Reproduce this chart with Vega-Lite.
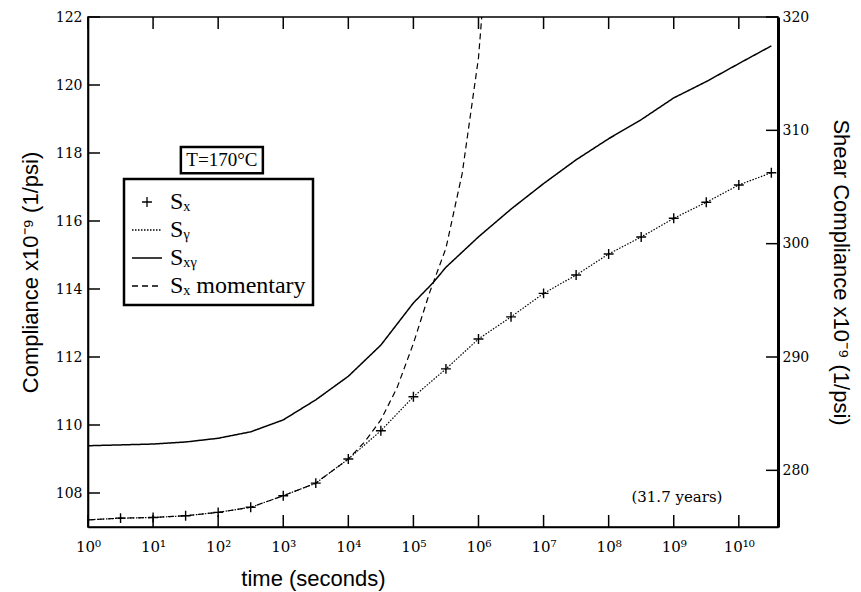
{
  "$schema": "https://vega.github.io/schema/vega-lite/v6.json",
  "width": 690,
  "height": 510,
  "autosize": {"type": "none"},
  "padding": {"left": 88, "top": 17, "right": 83, "bottom": 65},
  "background": "white",
  "config": {
    "view": {"stroke": "black", "strokeWidth": 1.6},
    "axis": {
      "grid": false,
      "domainColor": "black",
      "domainWidth": 1.6,
      "tickSize": 0,
      "labelFont": "DejaVu Serif",
      "labelFontSize": 14,
      "labelColor": "black",
      "labelFlush": false,
      "titleFont": "Liberation Sans",
      "titleFontSize": 22,
      "titleFontWeight": "normal",
      "titleColor": "black"
    },
    "legend": {
      "orient": "none",
      "legendX": 36,
      "legendY": 162,
      "padding": 7,
      "strokeColor": "black",
      "strokeWidth": 2.5,
      "fillColor": "white",
      "labelFont": "Liberation Serif",
      "labelFontSize": 24,
      "labelColor": "black",
      "symbolSize": 900,
      "symbolStrokeWidth": 1.3,
      "symbolStrokeColor": "black",
      "symbolFillColor": "transparent",
      "rowPadding": 0,
      "labelOffset": 7
    }
  },
  "datasets": {
    "curves": [
      {"series": "Sy", "t": 1, "v": 107.21},
      {"series": "Sy", "t": 3.1623, "v": 107.26},
      {"series": "Sy", "t": 10, "v": 107.28},
      {"series": "Sy", "t": 31.623, "v": 107.33},
      {"series": "Sy", "t": 100, "v": 107.43},
      {"series": "Sy", "t": 316.23, "v": 107.58},
      {"series": "Sy", "t": 1000, "v": 107.92},
      {"series": "Sy", "t": 3162.3, "v": 108.29},
      {"series": "Sy", "t": 10000, "v": 109.0},
      {"series": "Sy", "t": 31623, "v": 109.83},
      {"series": "Sy", "t": 100000, "v": 110.83},
      {"series": "Sy", "t": 316228, "v": 111.65},
      {"series": "Sy", "t": 1000000, "v": 112.53},
      {"series": "Sy", "t": 3162278, "v": 113.18},
      {"series": "Sy", "t": 10000000, "v": 113.87},
      {"series": "Sy", "t": 31622777, "v": 114.41},
      {"series": "Sy", "t": 100000000, "v": 115.03},
      {"series": "Sy", "t": 316227766, "v": 115.53},
      {"series": "Sy", "t": 1000000000, "v": 116.08},
      {"series": "Sy", "t": 3162277660, "v": 116.55},
      {"series": "Sy", "t": 10000000000, "v": 117.06},
      {"series": "Sy", "t": 31622776602, "v": 117.42},
      {"series": "Sx", "t": 3.1623, "v": 107.26},
      {"series": "Sx", "t": 10, "v": 107.28},
      {"series": "Sx", "t": 31.623, "v": 107.33},
      {"series": "Sx", "t": 100, "v": 107.43},
      {"series": "Sx", "t": 316.23, "v": 107.58},
      {"series": "Sx", "t": 1000, "v": 107.92},
      {"series": "Sx", "t": 3162.3, "v": 108.29},
      {"series": "Sx", "t": 10000, "v": 109.0},
      {"series": "Sx", "t": 31623, "v": 109.83},
      {"series": "Sx", "t": 100000, "v": 110.83},
      {"series": "Sx", "t": 316228, "v": 111.65},
      {"series": "Sx", "t": 1000000, "v": 112.53},
      {"series": "Sx", "t": 3162278, "v": 113.18},
      {"series": "Sx", "t": 10000000, "v": 113.87},
      {"series": "Sx", "t": 31622777, "v": 114.41},
      {"series": "Sx", "t": 100000000, "v": 115.03},
      {"series": "Sx", "t": 316227766, "v": 115.53},
      {"series": "Sx", "t": 1000000000, "v": 116.08},
      {"series": "Sx", "t": 3162277660, "v": 116.55},
      {"series": "Sx", "t": 10000000000, "v": 117.06},
      {"series": "Sx", "t": 31622776602, "v": 117.42},
      {"series": "Sx momentary", "t": 1, "v": 107.21},
      {"series": "Sx momentary", "t": 3.1623, "v": 107.26},
      {"series": "Sx momentary", "t": 10, "v": 107.28},
      {"series": "Sx momentary", "t": 31.623, "v": 107.33},
      {"series": "Sx momentary", "t": 100, "v": 107.43},
      {"series": "Sx momentary", "t": 316.23, "v": 107.58},
      {"series": "Sx momentary", "t": 1000, "v": 107.92},
      {"series": "Sx momentary", "t": 3162.3, "v": 108.29},
      {"series": "Sx momentary", "t": 10000, "v": 109.0},
      {"series": "Sx momentary", "t": 17783, "v": 109.5},
      {"series": "Sx momentary", "t": 31623, "v": 110.15},
      {"series": "Sx momentary", "t": 56234, "v": 111.1},
      {"series": "Sx momentary", "t": 100000, "v": 112.4},
      {"series": "Sx momentary", "t": 177828, "v": 113.9},
      {"series": "Sx momentary", "t": 316228, "v": 115.2},
      {"series": "Sx momentary", "t": 562341, "v": 117.4},
      {"series": "Sx momentary", "t": 1000000, "v": 120.8},
      {"series": "Sx momentary", "t": 1122018, "v": 122.0},
      {"series": "Sxy", "t": 1, "v": 282.17},
      {"series": "Sxy", "t": 10, "v": 282.32},
      {"series": "Sxy", "t": 31.623, "v": 282.5},
      {"series": "Sxy", "t": 100, "v": 282.83},
      {"series": "Sxy", "t": 316.23, "v": 283.4},
      {"series": "Sxy", "t": 1000, "v": 284.45},
      {"series": "Sxy", "t": 3162.3, "v": 286.22},
      {"series": "Sxy", "t": 10000, "v": 288.3},
      {"series": "Sxy", "t": 31623, "v": 291.05},
      {"series": "Sxy", "t": 100000, "v": 294.77},
      {"series": "Sxy", "t": 199526, "v": 296.54},
      {"series": "Sxy", "t": 316228, "v": 297.92},
      {"series": "Sxy", "t": 1000000, "v": 300.6},
      {"series": "Sxy", "t": 3162278, "v": 303.05},
      {"series": "Sxy", "t": 10000000, "v": 305.3},
      {"series": "Sxy", "t": 31622777, "v": 307.4},
      {"series": "Sxy", "t": 100000000, "v": 309.26},
      {"series": "Sxy", "t": 316227766, "v": 310.94},
      {"series": "Sxy", "t": 1000000000, "v": 312.86},
      {"series": "Sxy", "t": 3162277660, "v": 314.3},
      {"series": "Sxy", "t": 10000000000, "v": 315.89},
      {"series": "Sxy", "t": 31622776602, "v": 317.45}
    ],
    "notes": [
      {"label": "T=170°C", "t": 114, "v": 117.79},
      {"label": "(31.7 years)", "t": 1120000000, "v": 107.88}
    ],
    "xticks": [
      {"t": 1}, {"t": 10}, {"t": 100}, {"t": 1000}, {"t": 10000}, {"t": 100000},
      {"t": 1000000}, {"t": 10000000}, {"t": 100000000}, {"t": 1000000000}, {"t": 10000000000}
    ],
    "lticks": [
      {"v": 108}, {"v": 110}, {"v": 112}, {"v": 114}, {"v": 116}, {"v": 118}, {"v": 120}, {"v": 122}
    ],
    "rticks": [
      {"v": 280}, {"v": 290}, {"v": 300}, {"v": 310}, {"v": 320}
    ]
  },
  "layer": [
    {
      "layer": [
        {
          "data": {"name": "curves"},
          "transform": [{"filter": "datum.series === 'Sy' || datum.series === 'Sx momentary'"}],
          "mark": {"type": "line", "color": "black", "strokeWidth": 1.2},
          "encoding": {
            "x": {
              "field": "t", "type": "quantitative",
              "scale": {"type": "log", "domain": [1, 40000000000], "nice": false},
              "axis": {
                "orient": "bottom",
                "values": [1, 10, 100, 1000, 10000, 100000, 1000000, 10000000, 100000000, 1000000000, 10000000000],
                "labelExpr": "['10⁰','10¹','10²','10³','10⁴','10⁵','10⁶','10⁷','10⁸','10⁹','10¹⁰'][round(log(datum.value)/LN10)]",
                "labelPadding": 12,
                "labelFontSize": 15,
                "title": "time (seconds)",
                "titleX": 225,
                "titleY": 58,
                "titleBaseline": "alphabetic"
              }
            },
            "y": {
              "field": "v", "type": "quantitative",
              "scale": {"domain": [107, 122], "nice": false, "zero": false},
              "axis": {
                "values": [108, 110, 112, 114, 116, 118, 120, 122],
                "labelPadding": 6,
                "title": "Compliance x10⁻⁹  (1/psi)",
                "titlePadding": 13
              }
            },
            "strokeDash": {
              "field": "series", "type": "nominal",
              "scale": {"domain": ["Sx", "Sy", "Sxy", "Sx momentary"], "range": [[1, 0], [1.5, 1.5], [1, 0], [6, 4]]},
              "legend": {"title": null, "labelExpr": "{'Sx': 'Sₓ', 'Sy': 'Sᵧ', 'Sxy': 'Sₓᵧ', 'Sx momentary': 'Sₓ momentary'}[datum.label]"}
            }
          }
        },
        {
          "data": {"name": "curves"},
          "transform": [{"filter": "datum.series === 'Sx'"}],
          "mark": {"type": "point", "filled": false, "stroke": "black", "strokeWidth": 1.4, "size": 900, "opacity": 1},
          "encoding": {
            "x": {"field": "t", "type": "quantitative", "scale": {"type": "log", "domain": [1, 40000000000], "nice": false}},
            "y": {"field": "v", "type": "quantitative"},
            "shape": {
              "field": "series", "type": "nominal",
              "scale": {"domain": ["Sx", "Sy", "Sxy", "Sx momentary"], "range": ["M-0.33,0H0.33M0,-0.33V0.33", "stroke", "stroke", "stroke"]},
              "legend": {"title": null, "labelExpr": "{'Sx': 'Sₓ', 'Sy': 'Sᵧ', 'Sxy': 'Sₓᵧ', 'Sx momentary': 'Sₓ momentary'}[datum.label]"}
            }
          }
        },
        {
          "data": {"name": "xticks"},
          "mark": {"type": "point", "shape": "M0,0V-1", "size": 576, "filled": false, "stroke": "black", "strokeWidth": 1.5, "opacity": 1, "clip": false},
          "encoding": {
            "x": {"field": "t", "type": "quantitative", "scale": {"type": "log", "domain": [1, 40000000000], "nice": false}},
            "y": {"datum": 107}
          }
        },
        {
          "data": {"name": "xticks"},
          "mark": {"type": "point", "shape": "M0,0V1", "size": 576, "filled": false, "stroke": "black", "strokeWidth": 1.5, "opacity": 1, "clip": false},
          "encoding": {
            "x": {"field": "t", "type": "quantitative", "scale": {"type": "log", "domain": [1, 40000000000], "nice": false}},
            "y": {"datum": 122}
          }
        },
        {
          "data": {"name": "lticks"},
          "mark": {"type": "point", "shape": "M0,0H1", "size": 576, "filled": false, "stroke": "black", "strokeWidth": 1.5, "opacity": 1, "clip": false},
          "encoding": {
            "y": {"field": "v", "type": "quantitative"},
            "x": {"datum": 1}
          }
        },
        {
          "data": {"name": "notes"},
          "transform": [{"filter": "datum.label === 'T=170°C'"}],
          "mark": {"type": "point", "shape": "M-1,-0.32H1V0.32H-1Z", "size": 6724, "filled": true, "fill": "white", "stroke": "black", "strokeWidth": 2.5, "opacity": 1},
          "encoding": {
            "x": {"field": "t", "type": "quantitative", "scale": {"type": "log", "domain": [1, 40000000000], "nice": false}},
            "y": {"field": "v", "type": "quantitative"}
          }
        },
        {
          "data": {"name": "notes"},
          "transform": [{"filter": "datum.label === 'T=170°C'"}],
          "mark": {"type": "text", "font": "Liberation Serif", "fontSize": 19, "color": "black", "align": "center", "baseline": "middle"},
          "encoding": {
            "x": {"field": "t", "type": "quantitative", "scale": {"type": "log", "domain": [1, 40000000000], "nice": false}},
            "y": {"field": "v", "type": "quantitative"},
            "text": {"field": "label"}
          }
        },
        {
          "data": {"name": "notes"},
          "transform": [{"filter": "datum.label === '(31.7 years)'"}],
          "mark": {"type": "text", "font": "DejaVu Serif", "fontSize": 15, "color": "black", "align": "center", "baseline": "middle"},
          "encoding": {
            "x": {"field": "t", "type": "quantitative", "scale": {"type": "log", "domain": [1, 40000000000], "nice": false}},
            "y": {"field": "v", "type": "quantitative"},
            "text": {"field": "label"}
          }
        }
      ]
    },
    {
      "layer": [
        {
          "data": {"name": "curves"},
          "transform": [{"filter": "datum.series === 'Sxy'"}],
          "mark": {"type": "line", "color": "black", "strokeWidth": 1.5},
          "encoding": {
            "x": {
              "field": "t", "type": "quantitative",
              "scale": {"type": "log", "domain": [1, 40000000000], "nice": false},
              "axis": null
            },
            "y": {
              "field": "v", "type": "quantitative",
              "scale": {"domain": [275, 320], "nice": false, "zero": false},
              "axis": {
                "orient": "right",
                "values": [280, 290, 300, 310, 320],
                "labelPadding": 4,
                "domainWidth": 3,
                "title": "Shear Compliance x10⁻⁹  (1/psi)",
                "titlePadding": 20
              }
            },
            "strokeDash": {
              "field": "series", "type": "nominal",
              "scale": {"domain": ["Sx", "Sy", "Sxy", "Sx momentary"], "range": [[1, 0], [1.5, 1.5], [1, 0], [6, 4]]},
              "legend": {"title": null, "labelExpr": "{'Sx': 'Sₓ', 'Sy': 'Sᵧ', 'Sxy': 'Sₓᵧ', 'Sx momentary': 'Sₓ momentary'}[datum.label]"}
            }
          }
        },
        {
          "data": {"name": "rticks"},
          "mark": {"type": "point", "shape": "M0,0H-1", "size": 576, "filled": false, "stroke": "black", "strokeWidth": 1.5, "opacity": 1, "clip": false},
          "encoding": {
            "y": {"field": "v", "type": "quantitative"},
            "x": {"datum": 40000000000, "axis": null}
          }
        }
      ]
    }
  ],
  "resolve": {"scale": {"y": "independent"}, "axis": {"x": "independent"}}
}
